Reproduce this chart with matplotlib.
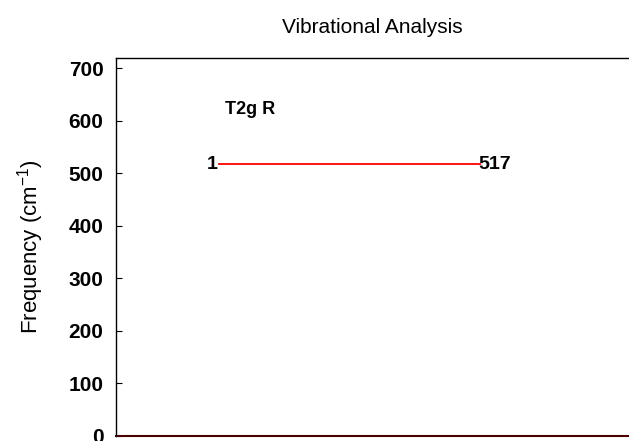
import matplotlib.pyplot as plt

# data
mode_label = "T2g R"
mode_index = [1]
frequencies = [517]
line_x = [0.201, 0.709]

plt.rcParams['font.family'] = ['Liberation Sans', 'DejaVu Sans']

fig = plt.figure(figsize=(6.29, 4.41), dpi=100)
ax = fig.add_axes([116 / 629, 5.5 / 441, 1 - 116 / 629, (435.5 - 58) / 441])

for idx, f in zip(mode_index, frequencies):
    ax.plot(line_x, [f, f], color='red', linewidth=1.3)
    ax.text(line_x[0] - 0.003, f, str(idx), ha='right', va='center',
            fontsize=14, fontweight='bold')
    ax.text(line_x[1] - 0.002, f, str(f), ha='left', va='center',
            fontsize=14, fontweight='bold')

ax.text(0.212, 621, mode_label, ha='left', va='center', fontsize=13,
        fontweight='bold')

ax.set_xlim(0, 1)
ax.set_ylim(0, 720)
ax.set_yticks(range(0, 701, 100))
ax.set_xticks([])
ax.tick_params(axis='y', direction='in', length=4.5, labelsize=15, pad=9)
for lbl in ax.get_yticklabels():
    lbl.set_fontweight('bold')

ax.spines['right'].set_visible(False)
ax.spines['bottom'].set_color('#4a0000')
ax.spines['bottom'].set_linewidth(1.5)
ax.spines['left'].set_linewidth(1.0)
ax.spines['top'].set_linewidth(1.0)

ax.set_ylabel('Frequency (cm$^{\\mathregular{-1}}$)', fontsize=16, labelpad=16)
ax.set_title('Vibrational Analysis', fontsize=15, pad=18)

fig.savefig('out.png', dpi=100)
